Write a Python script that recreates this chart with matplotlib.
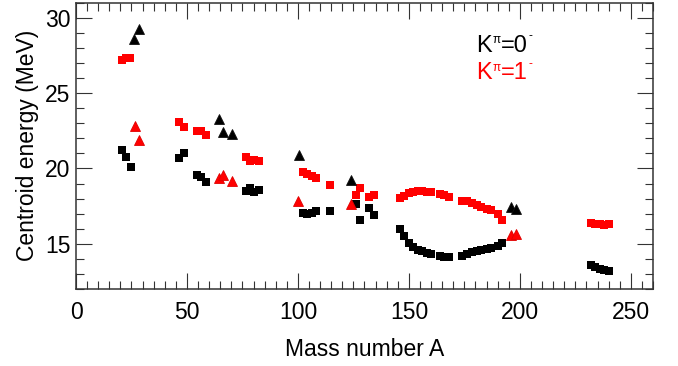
import matplotlib
matplotlib.use("Agg")
import matplotlib.pyplot as plt
from matplotlib.ticker import MultipleLocator

plt.rcParams['font.family'] = ['Liberation Sans', 'DejaVu Sans']

# K^pi = 0^- centroid energies (squares)
a_k0 = [20.6, 22.5, 24.6, 46.2, 48.5, 54.4, 56.3, 58.4, 76.6, 78.5, 80.3, 82.4,
        102.1, 104.2, 106.3, 108.1, 114.3, 126.3, 128.2, 132.1, 134.1,
        146, 148, 150, 152, 154, 156, 158, 160, 164, 166, 168,
        174, 176, 178.5, 180.5, 182.5, 185, 187, 190, 192,
        232, 234, 236, 238, 240]
e_k0 = [21.2, 20.75, 20.1, 20.7, 21.0, 19.56, 19.4, 19.1, 18.5, 18.73, 18.46, 18.57,
        17.07, 16.98, 17.03, 17.18, 17.18, 17.65, 16.6, 17.4, 16.9,
        15.97, 15.53, 15.03, 14.76, 14.58, 14.5, 14.39, 14.32, 14.21, 14.14, 14.1,
        14.21, 14.32, 14.43, 14.54, 14.6, 14.65, 14.72, 14.87, 15.03,
        13.6, 13.44, 13.33, 13.26, 13.2]

# K^pi = 1^- centroid energies (squares)
a_k1 = [20.6, 22.5, 24.5, 46.4, 48.6, 54.4, 56.3, 58.4, 76.4, 78.5, 80.3, 82.4,
        102.1, 104.2, 106.3, 108.1, 114.3, 126.2, 128.2, 132.1, 134.1,
        146, 148, 150, 152, 154, 156, 158, 160, 164, 166, 168,
        174, 176, 178.5, 180.5, 182.5, 185, 187, 190, 192,
        232, 234, 236, 238, 240]
e_k1 = [27.2, 27.3, 27.3, 23.05, 22.75, 22.5, 22.5, 22.2, 20.75, 20.5, 20.55, 20.5,
        19.77, 19.61, 19.49, 19.34, 18.9, 18.24, 18.71, 18.12, 18.25,
        18.02, 18.17, 18.4, 18.45, 18.5, 18.48, 18.45, 18.42, 18.28, 18.22, 18.13,
        17.87, 17.84, 17.69, 17.57, 17.46, 17.34, 17.23, 17.0, 16.59,
        16.35, 16.33, 16.3, 16.28, 16.3]

# Triangles: second set of K^pi = 0^- and 1^- values
a_tri_k0 = [26.3, 28.4, 64.3, 66.2, 70.3, 100.4, 124.0, 195.8, 198.1]
e_tri_k0 = [28.6, 29.25, 23.3, 22.4, 22.3, 20.9, 19.22, 17.47, 17.34]
a_tri_k1 = [26.4, 28.4, 64.3, 66.2, 70.3, 100.2, 123.9, 195.9, 198.2]
e_tri_k1 = [22.8, 21.9, 19.34, 19.54, 19.2, 17.87, 17.61, 15.57, 15.62]

x_ticks = [0, 50, 100, 150, 200, 250]
y_ticks = [15, 20, 25, 30]

fig = plt.figure(figsize=(6.78, 3.66), dpi=100)
ax = fig.add_axes([0.1121, 0.2104, 0.8510, 0.7822])

ax.plot(a_k0, e_k0, 's', color='black', ms=5.2, mew=0, zorder=3)
ax.plot(a_k1, e_k1, 's', color='#ff0000', ms=5.2, mew=0, zorder=3)
ax.plot(a_tri_k0, e_tri_k0, '^', color='black', ms=7, mew=0.6, mec='#111111', zorder=3)
ax.plot(a_tri_k1, e_tri_k1, '^', color='#ff0000', ms=7, mew=0.6, mec='#e00000', zorder=3)

ax.set_xlim(0, 260)
ax.set_ylim(12, 31)
ax.set_xticks(x_ticks)
ax.set_yticks(y_ticks)
ax.xaxis.set_minor_locator(MultipleLocator(5))
ax.yaxis.set_minor_locator(MultipleLocator(1))

for s in ax.spines.values():
    s.set_color('#333333')
    s.set_linewidth(1.1)

ax.tick_params(which='both', direction='in', top=True, right=True,
               color='#333333', width=0.8, labelsize=16.5)
ax.tick_params(which='major', length=11.5)
ax.tick_params(which='minor', length=6)
ax.tick_params(axis='x', which='major', pad=9)
ax.tick_params(axis='y', which='major', pad=4)

ax.set_xlabel('Mass number A', fontsize=16.5, labelpad=10)
ax.set_ylabel('Centroid energy (MeV)', fontsize=16.5, labelpad=4)


def k_label(x, y, value, color):
    """Write K^pi=value^- with small raised superscripts."""
    base = ax.text(x, y, 'K', transform=ax.transAxes, fontsize=17,
                   color=color, ha='left', va='baseline')
    sup_pi = ax.annotate('π', xy=(1, 1), xycoords=base, xytext=(0.3, 0.5),
                         textcoords='offset points', fontsize=8.5,
                         color=color, ha='left', va='top')
    eq = ax.annotate('=' + value, xy=(1, 0), xycoords=(sup_pi, base),
                     xytext=(0, 0), textcoords='offset points', fontsize=17,
                     color=color, ha='left', va='bottom')
    ax.annotate('-', xy=(1, 1), xycoords=eq, xytext=(0.6, 3.0),
                textcoords='offset points', fontsize=8.5,
                color=color, ha='left', va='top')


k_label(0.694, 0.829, '0', 'black')
k_label(0.694, 0.7325, '1', '#ff0000')

fig.savefig('out.png', dpi=100)
